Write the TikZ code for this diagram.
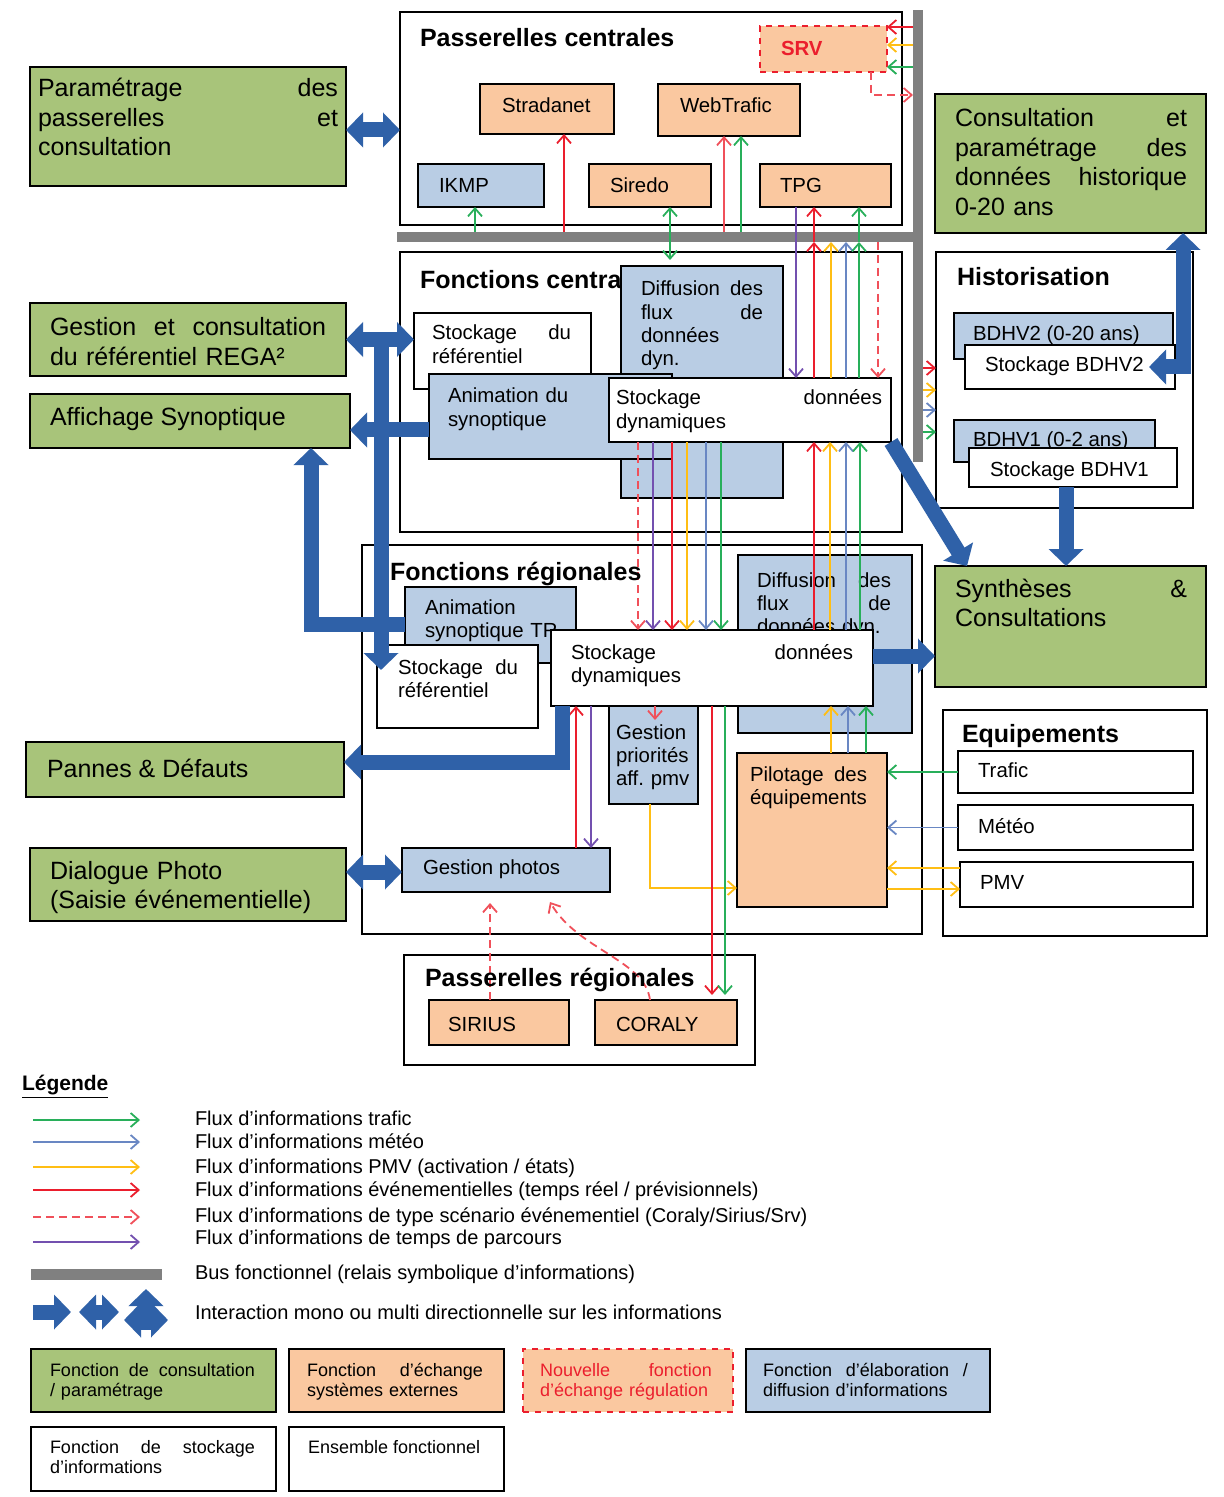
\documentclass[tikz,border=0pt]{standalone}
\usepackage{fontspec}
\setmainfont{Liberation Sans}
\usetikzlibrary{arrows.meta,fit}

\definecolor{cgreen}{RGB}{168,196,122}
\definecolor{csalmon}{RGB}{250,200,160}
\definecolor{cblue}{RGB}{185,205,228}
\definecolor{fgreen}{RGB}{40,175,90}
\definecolor{fblue}{RGB}{105,135,195}
\definecolor{fyellow}{RGB}{255,190,20}
\definecolor{fred}{RGB}{235,30,45}
\definecolor{fpink}{RGB}{240,80,90}
\definecolor{fpurple}{RGB}{115,80,175}
\definecolor{busgray}{RGB}{128,128,128}
\definecolor{bigblue}{RGB}{47,97,168}

\newcommand\jf{\hspace{0pt plus 1filll}}
\newcommand\fbig{\fontsize{12.5}{14.75}\selectfont}
\newcommand\fttl{\bfseries\fontsize{12.5}{15}\selectfont}
\newcommand\fmid{\fontsize{10.2}{11.6}\selectfont}
\newcommand\fleg{\fontsize{10}{12}\selectfont}
\newcommand\fsm{\fontsize{9}{10.25}\selectfont}

\newcommand\mybox[6]{\node[#6,fit={(#2,#3)(#4,#5)}] (#1) {};}
\newcommand\mytext[4][]{\node[txt,#1] (#2) at (#3) {#4};}

\begin{document}
\frenchspacing
\begin{tikzpicture}[x=0.5pt,y=-0.5pt,
  box/.style={draw=black,line width=0.9pt,inner sep=0pt,outer sep=0pt},
  gbox/.style={box,fill=cgreen},
  sbox/.style={box,fill=csalmon},
  bbox/.style={box,fill=cblue},
  wbox/.style={box,fill=white},
  nbox/.style={box,fill=csalmon,draw=fred,dashed},
  bus/.style={fill=busgray,inner sep=0pt,outer sep=0pt},
  txt/.style={anchor=base west,inner sep=0pt,outer sep=0pt,align=left},
  flow/.style={line width=0.9pt,-{Straight Barb[length=4pt,width=7pt]}},
  flowtwo/.style={line width=0.9pt,{Straight Barb[length=4pt,width=7pt]}-{Straight Barb[length=4pt,width=7pt]}},
  dflow/.style={flow,dash pattern=on 4pt off 2.5pt},
  big/.style={draw=bigblue,line width=7.5pt,-{Triangle[width=17pt,length=8.5pt]}},
  bigtwo/.style={draw=bigblue,line width=7.5pt,{Triangle[width=17pt,length=8.5pt]}-{Triangle[width=17pt,length=8.5pt]}},
]
\useasboundingbox[fill=white] (0,0) rectangle (1223,1497);

% ---------- buses
\mybox{hbus}{397}{232}{923}{242}{bus}
\mybox{vbus}{913}{10}{923}{462}{bus}

% ---------- containers
\mybox{pcent}{400}{12}{902}{225}{wbox}
\mybox{fcent}{400}{252}{902}{532}{wbox}
\mybox{hist}{936}{252}{1193}{508}{wbox}
\mybox{freg}{362}{545}{922}{934}{wbox}
\mybox{equip}{943}{710}{1207}{936}{wbox}
\mybox{preg}{404}{955}{755}{1065}{wbox}

% ---------- green boxes
\mybox{gb1}{30}{67}{346}{186}{gbox}
\mybox{gb2}{30}{303}{346}{376}{gbox}
\mybox{gb3}{30}{394}{350}{448}{gbox}
\mybox{gb4}{26}{742}{344}{797}{gbox}
\mybox{gb5}{30}{848}{346}{921}{gbox}
\mybox{gb6}{935}{94}{1206}{233}{gbox}
\mybox{gb7}{935}{566}{1206}{687}{gbox}
\mytext[font=\fbig,text width=150pt]{tg1}{38,97}{Paramétrage\jf des\\passerelles\jf et\\consultation}
\mytext[font=\fbig,text width=138pt]{tg2}{50,336}{Gestion\jf et\jf consultation\\du référentiel REGA²}
\mytext[font=\fbig]{tg3}{50,426}{Affichage Synoptique}
\mytext[font=\fbig]{tg4}{47,777}{Pannes \& Défauts}
\mytext[font=\fbig,text width=148pt]{tg5}{50,879}{Dialogue Photo\\(Saisie événementielle)}
\mytext[font=\fbig,text width=116pt]{tg6}{955,127}{Consultation\jf et\\paramétrage\jf des\\données\jf historique\\0-20 ans}
\mytext[font=\fbig,text width=116pt]{tg7}{955,597}{Synthèses\jf \&\\Consultations}

% ---------- Passerelles centrales
\mytext[font=\fttl]{tpc}{420,47}{Passerelles centrales}
\mybox{srv}{760}{26}{887}{72}{nbox}
\mybox{strad}{480}{84}{614}{134}{sbox}
\mybox{web}{658}{84}{800}{136}{sbox}
\mybox{ikmp}{418}{164}{544}{207}{bbox}
\mybox{siredo}{589}{164}{711}{207}{sbox}
\mybox{tpg}{760}{164}{891}{207}{sbox}
\mytext[font=\bfseries\fontsize{10.2}{12}\selectfont,text=fred]{tsrv}{781,56}{SRV}
\mytext[font=\fmid]{tstrad}{502,113}{Stradanet}
\mytext[font=\fmid]{tweb}{680,113}{WebTrafic}
\mytext[font=\fmid]{tikmp}{439,193}{IKMP}
\mytext[font=\fmid]{tsiredo}{610,193}{Siredo}
\mytext[font=\fmid]{ttpg}{780,193}{TPG}

% ---------- Fonctions centrales
\mytext[font=\fttl]{tfc}{420,289}{Fonctions centrales}
\mybox{csref}{414}{313}{591}{389}{wbox}
\mytext[font=\fmid,text width=69.5pt]{tcsref}{432,340}{Stockage\jf du\\référentiel}
\mybox{cdiff}{621}{266}{783}{498}{bbox}
\mytext[font=\fmid,text width=61pt]{tcdiff}{641,296}{Diffusion\jf des\\flux\jf de\\données\\dyn.}
\mybox{canim}{429}{374}{672}{459}{bbox}
\mytext[font=\fmid,text width=100pt]{tcanim}{448,403}{Animation du\\synoptique}
\mybox{cstore}{609}{378}{891}{442}{wbox}
\mytext[font=\fmid,text width=133pt]{tcstore}{616,405}{Stockage\jf données\\dynamiques}

% ---------- Historisation
\mytext[font=\fttl]{thist}{957,286}{Historisation}
\mybox{bd2}{954}{313}{1173}{359}{bbox}
\mytext[font=\fmid]{tbd2}{973,341}{BDHV2 (0-20 ans)}
\mybox{sb2}{965}{345}{1175}{389}{wbox}
\mytext[font=\fmid]{tsb2}{985,372}{Stockage BDHV2}
\mybox{bd1}{954}{420}{1155}{462}{bbox}
\mytext[font=\fmid]{tbd1}{973,446}{BDHV1 (0-2 ans)}
\mybox{sb1}{969}{448}{1177}{487}{wbox}
\mytext[font=\fmid]{tsb1}{990,476}{Stockage BDHV1}

% ---------- Fonctions regionales
\mybox{ranim}{405}{587}{576}{663}{bbox}
\mytext[font=\fmid,text width=80pt]{tranim}{425,614}{Animation\\synoptique TR}
\mybox{rsref}{377}{645}{538}{728}{wbox}
\mytext[font=\fmid,text width=60pt]{trsref}{398,674}{Stockage\jf du\\référentiel}
\mybox{rdiff}{738}{555}{912}{733}{bbox}
\mytext[font=\fmid,text width=67pt]{trdiff}{757,587}{Diffusion\jf des\\flux\jf de\\données dyn.}
\mybox{gprio}{609}{690}{698}{804}{bbox}
\mytext[font=\fmid,text width=45pt]{tgprio}{616,739}{Gestion\\priorités\\aff. pmv}
\mybox{rstore}{551}{630}{873}{706}{wbox}
\mytext[font=\fmid,text width=141pt]{trstore}{571,659}{Stockage\jf données\\dynamiques}
\mybox{pil}{737}{753}{887}{907}{sbox}
\mytext[font=\fmid,text width=58.5pt]{tpil}{750,781}{Pilotage\jf des\\équipements}
\mybox{gph}{402}{848}{610}{892}{bbox}
\mytext[font=\fmid]{tgph}{423,874}{Gestion photos}

% ---------- Equipements
\mytext[font=\fttl]{tequip}{962,742}{Equipements}
\mybox{trafic}{958}{751}{1193}{793}{wbox}
\mybox{meteo}{958}{805}{1193}{850}{wbox}
\mybox{pmv}{960}{862}{1193}{907}{wbox}
\mytext[font=\fmid]{ttrafic}{978,777}{Trafic}
\mytext[font=\fmid]{tmeteo}{978,833}{Météo}
\mytext[font=\fmid]{tpmv}{980,889}{PMV}

% ---------- Passerelles regionales
\mybox{sirius}{429}{1000}{569}{1045}{sbox}
\mybox{coraly}{595}{1000}{737}{1045}{sbox}
\mytext[font=\fmid]{tsirius}{448,1031}{SIRIUS}
\mytext[font=\fmid]{tcoraly}{616,1031}{CORALY}

% ---------- thin flows (top)
\coordinate (sirlow) at (670,260);
\draw[flow,fgreen] (475,0 |- hbus.north) -- (475,0 |- ikmp.south);
\draw[flow,fred] (564,0 |- hbus.north) -- (564,0 |- strad.south);
\draw[flowtwo,fgreen] (670,0 |- siredo.south) -- (sirlow);
\draw[flow,fpink] (724,0 |- hbus.north) -- (724,0 |- web.south);
\draw[flow,fgreen] (741,0 |- hbus.north) -- (741,0 |- web.south);
\draw[flow,fpurple] (796,0 |- tpg.south) -- (796,0 |- cstore.north);
\draw[flow,fred] (814,0 |- cstore.north) -- (814,0 |- hbus.south);
\draw[flow,fred] (814,0 |- hbus.south) -- (814,0 |- tpg.south);
\draw[flow,fyellow] (831,0 |- cstore.north) -- (831,0 |- hbus.south);
\draw[flow,fblue] (846,0 |- cstore.north) -- (846,0 |- hbus.south);
\draw[flow,fgreen] (859,0 |- cstore.north) -- (859,0 |- hbus.south);
\draw[flow,fgreen] (859,0 |- hbus.south) -- (859,0 |- tpg.south);
\draw[dflow,fpink] (878,0 |- hbus.south) -- (878,0 |- cstore.north);
% SRV
\draw[flow,fred] (vbus.west |- 0,27) -- (srv.east |- 0,27);
\draw[flow,fyellow] (vbus.west |- 0,45) -- (srv.east |- 0,45);
\draw[flow,fgreen] (vbus.west |- 0,67) -- (srv.east |- 0,67);
\draw[dflow,fpink] (871,0 |- srv.south) |- (vbus.west |- 0,95);
% Historisation
\draw[flow,fred] (vbus.east |- 0,368) -- (hist.west |- 0,368);
\draw[flow,fyellow] (vbus.east |- 0,390) -- (hist.west |- 0,390);
\draw[flow,fblue] (vbus.east |- 0,410) -- (hist.west |- 0,410);
\draw[flow,fgreen] (vbus.east |- 0,432) -- (hist.west |- 0,432);
% central -> regional
\draw[dflow,fpink] (638,0 |- cstore.south) -- (638,0 |- rstore.north);
\foreach \x/\c in {653/fpurple,672/fred,687/fyellow,706/fblue,721/fgreen}
  \draw[flow,\c] (\x,0 |- cstore.south) -- (\x,0 |- rstore.north);
% regional -> central
\foreach \x/\c in {814/fred,830/fyellow,846/fblue,860/fgreen}
  \draw[flow,\c] (\x,0 |- rstore.north) -- (\x,0 |- cstore.south);
% pilotage -> stockage
\foreach \x/\c in {831/fyellow,848/fblue,866/fgreen}
  \draw[flow,\c] (\x,0 |- pil.north) -- (\x,0 |- rstore.south);
% regional lower
\coordinate (gpin) at (655,720);
\draw[flow,fpink] (655,0 |- rstore.south) -- (gpin);
\draw[flow,fred] (576,0 |- gph.north) -- (576,0 |- rstore.south);
\draw[flow,fpurple] (591,0 |- rstore.south) -- (591,0 |- gph.north);
\draw[flow,fyellow] (650,0 |- gprio.south) |- (pil.west |- 0,888);
\coordinate (corR) at (712,995);
\coordinate (corG) at (725,995);
\draw[flow,fred] (712,0 |- rstore.south) -- (corR);
\draw[flow,fgreen] (725,0 |- rstore.south) -- (corG);
\coordinate (sirT) at (490,903);
\draw[dflow,fpink] (490,0 |- sirius.north) -- (sirT);
\coordinate (corT) at (550,902);
\draw[dflow,fpink] (650,0 |- coraly.north) .. controls (645,960) and (578,950) .. (corT);
% equipements
\draw[flow,fgreen] (trafic.west) -- (trafic.west -| pil.east);
\draw[flow,fblue] (meteo.west) -- (meteo.west -| pil.east);
\draw[flow,fyellow] (pmv.west |- 0,868) -- (pil.east |- 0,868);
\draw[flow,fyellow] (pil.east |- 0,889) -- (pmv.west |- 0,889);

% ---------- titles drawn over flows
\mytext[font=\fttl]{tfr}{390,580}{Fonctions régionales}
\mytext[font=\fttl]{tpr}{425,986}{Passerelles régionales}

% ---------- big blue interactions
\coordinate (regaD) at (381,670);
\draw[bigtwo] (gb1.east |- 0,130) -- (pcent.west |- 0,130);
\draw[bigtwo] (gb2.east) -- (gb2.east -| csref.west);
\draw[big] (381,0 |- gb2.east) -- (regaD);
\draw[big] (canim.west |- 0,430) -- (gb3.east |- 0,430);
\draw[big] (ranim.west |- 0,624) -| (311,0 |- gb3.south);
\draw[big] (562,0 |- rstore.south) |- (gb4.east |- 0,762);
\draw[bigtwo] (gb5.east |- 0,872) -- (gph.west |- 0,872);
\draw[big] (rstore.east |- 0,656) -- (gb7.west |- 0,656);
\draw[big] (cstore.south east) -- ([xshift=16pt]gb7.north west);
\draw[big] (1066,0 |- sb1.south) -- (1066,0 |- gb7.north);
\draw[bigtwo] (1183,0 |- gb6.south) |- ([xshift=-13pt]sb2.east);

% ---------- legend
\mytext[font=\bfseries\fontsize{10.5}{12}\selectfont]{tleg}{22,1090}{\underline{Légende}}
\foreach \y/\c/\n in {1120/fgreen/a,1142/fblue/b,1167/fyellow/c,1190/fred/d,1242/fpurple/f}{
  \coordinate (ls\n) at (33,\y);
  \coordinate (le\n) at (140,\y);
  \draw[flow,\c] (ls\n) -- (le\n);
}
\coordinate (lse) at (33,1217);
\coordinate (lee) at (140,1217);
\draw[dflow,fpink] (lse) -- (lee);
\mytext[font=\fleg]{tl1}{195,1125}{Flux d’informations trafic}
\mytext[font=\fleg]{tl2}{195,1148}{Flux d’informations météo}
\mytext[font=\fleg]{tl3}{195,1173}{Flux d’informations PMV (activation / états)}
\mytext[font=\fleg]{tl4}{195,1196}{Flux d’informations événementielles (temps réel / prévisionnels)}
\mytext[font=\fleg]{tl5}{195,1222}{Flux d’informations de type scénario événementiel (Coraly/Sirius/Srv)}
\mytext[font=\fleg]{tl6}{195,1244}{Flux d’informations de temps de parcours}
\mybox{lbus}{31}{1269}{162}{1280}{bus}
\mytext[font=\fleg]{tl7}{195,1279}{Bus fonctionnel (relais symbolique d’informations)}
\coordinate (i1a) at (33,1312);
\coordinate (i1b) at (71,1312);
\draw[big] (i1a) -- (i1b);
\coordinate (i2a) at (79,1312);
\coordinate (i2b) at (119,1312);
\draw[bigtwo] (i2a) -- (i2b);
\coordinate (i3a) at (146,1330);
\coordinate (i3b) at (146,1289);
\draw[big] (i3a) -- (i3b);
\coordinate (i3c) at (124,1320);
\coordinate (i3d) at (168,1320);
\draw[bigtwo] (i3c) -- (i3d);
\mytext[font=\fleg]{tl8}{195,1319}{Interaction mono ou multi directionnelle sur les informations}

\mybox{lb1}{31}{1349}{276}{1412}{gbox}
\mybox{lb2}{289}{1349}{504}{1412}{sbox}
\mybox{lb3}{523}{1349}{733}{1412}{nbox}
\mybox{lb4}{746}{1349}{990}{1412}{bbox}
\mybox{lb5}{31}{1427}{276}{1491}{wbox}
\mybox{lb6}{289}{1427}{504}{1491}{wbox}
\mytext[font=\fsm,text width=102.5pt]{tlb1}{50,1376}{Fonction\jf de\jf consultation\\/ paramétrage}
\mytext[font=\fsm,text width=88pt]{tlb2}{307,1376}{Fonction\jf d’échange\\systèmes externes}
\mytext[font=\fsm,text width=86pt,text=fred]{tlb3}{540,1376}{Nouvelle\jf fonction\\d’échange régulation}
\mytext[font=\fsm,text width=102.5pt]{tlb4}{763,1376}{Fonction\jf d’élaboration\jf /\\diffusion d’informations}
\mytext[font=\fsm,text width=102.5pt]{tlb5}{50,1453}{Fonction\jf de\jf stockage\\d’informations}
\mytext[font=\fsm]{tlb6}{308,1453}{Ensemble fonctionnel}
\end{tikzpicture}
\end{document}
